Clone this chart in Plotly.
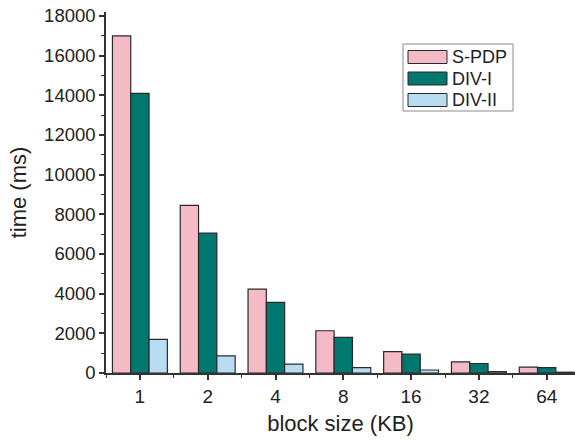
import plotly.graph_objects as go

categories = ["1", "2", "4", "8", "16", "32", "64"]
s_pdp = [17000, 8450, 4230, 2130, 1080, 560, 300]
div_i = [14100, 7050, 3560, 1800, 950, 480, 270]
div_ii = [1700, 860, 450, 270, 150, 70, 40]
series_names = ["S-PDP", "DIV-I", "DIV-II"]
colors = ["#F4BAC6", "#00776F", "#B8DDF2"]

W, H = 575, 440
L, R, T, B = 106, 0, 12, 67
FONT = "Liberation Sans, Arial, sans-serif"
xs = list(range(len(categories)))

fig = go.Figure()
for name, vals, col in zip(series_names, [s_pdp, div_i, div_ii], colors):
    fig.add_trace(go.Bar(
        x=xs, y=vals, name=name, marker=dict(color=col, line=dict(color="#2a2a2a", width=1.2)),
        showlegend=False,
    ))

pw = W - L - R
ph = H - T - B
xmin = -0.5
xmax = xmin + pw / 67.8

fig.update_layout(
    width=W, height=H,
    margin=dict(l=L, r=R, t=T, b=B, pad=0),
    paper_bgcolor="white", plot_bgcolor="white",
    barmode="group", bargap=0.19, bargroupgap=0,
    font=dict(family=FONT, color="#222222"),
    xaxis=dict(
        range=[xmin, xmax], tickvals=xs, ticktext=categories,
        showline=True, linecolor="#333333", linewidth=1.5,
        ticks="outside", ticklen=5, tickwidth=1.5, tickcolor="#333333",
        tickfont=dict(size=19, family=FONT, color="#222222"),
        showgrid=False, zeroline=False,
        minor=dict(tickmode="linear", tick0=0.5, dtick=1, ticks="outside", ticklen=3, tickwidth=1.2, tickcolor="#333333", showgrid=False),
        title=dict(text="block size (KB)", font=dict(size=22, family=FONT, color="#222222"), standoff=10),
    ),
    yaxis=dict(
        range=[0, 18200], tickmode="linear", tick0=0, dtick=2000, tickformat="d",
        showline=True, linecolor="#333333", linewidth=1.5,
        ticks="outside", ticklen=5, tickwidth=1.5, tickcolor="#333333",
        tickfont=dict(size=18.5, family=FONT, color="#222222"),
        showgrid=False, zeroline=False,
        minor=dict(tickmode="linear", tick0=0, dtick=1000, ticks="outside", ticklen=3, tickwidth=1.2, tickcolor="#333333", showgrid=False),
        title=dict(text="time (ms)", font=dict(size=22, family=FONT, color="#222222"), standoff=11),
    ),
)

# Manual legend (pixel positions converted to paper coordinates)
def px_x(px):
    return (px - L) / pw

def px_y(py):
    return (H - B - py) / ph

fig.add_shape(type="rect", xref="paper", yref="paper",
              x0=px_x(403), x1=px_x(513), y0=px_y(111), y1=px_y(44),
              line=dict(color="#8a8a8a", width=1), fillcolor="white")
row_y = [57, 78.5, 100]
for name, col, yc in zip(series_names, colors, row_y):
    fig.add_shape(type="rect", xref="paper", yref="paper",
                  x0=px_x(408), x1=px_x(447), y0=px_y(yc + 6.5), y1=px_y(yc - 6.5),
                  line=dict(color="#2a2a2a", width=1), fillcolor=col)
    fig.add_annotation(xref="paper", yref="paper", x=px_x(450), y=px_y(yc),
                       text=name, showarrow=False, xanchor="left", yanchor="middle",
                       font=dict(size=18, family=FONT, color="#222222"))

fig.write_html("out.html")
